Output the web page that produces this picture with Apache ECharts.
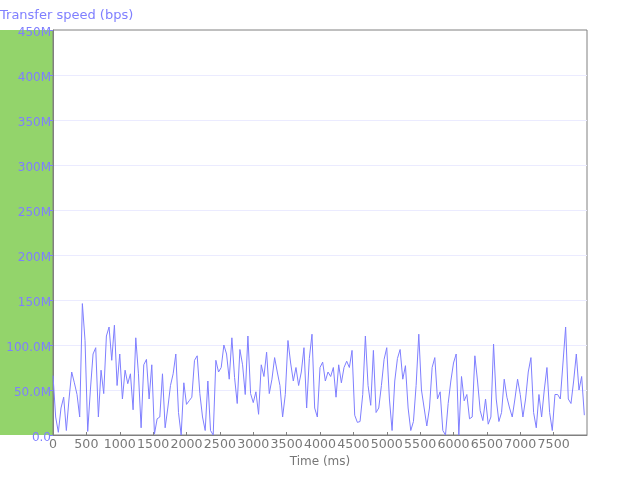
<!DOCTYPE html>
<html>
<head>
<meta charset="utf-8">
<script src="https://cdn.jsdelivr.net/npm/echarts@6/dist/echarts.min.js"></script>
<style>html,body{margin:0;padding:0;background:#fff}#c{width:640px;height:480px}</style>
</head>
<body>
<div id="c"></div>
<script>
var titleText = "Transfer speed (bps)";
var xAxisName = "Time (ms)";
var timeStep = 40; // ms between samples
var yTickLabels = {0: "0.0", 50: "50.0M", 100: "100.0M", 150: "150M", 200: "200M", 250: "250M", 300: "300M", 350: "350M", 400: "400M", 450: "450M"};
// transfer speed in Mbps, one sample per 40 ms
var speed1 = [66,20,3,30,42,5,40,70,58,45,20,146,105,4,50,90,97,20,72,46,110,120,83,122,55,90,40,72,57,68,28,108,68,8,78,84,40,78,1,18];
var speed2 = [20,68,8,30,55,68,90,25,0,58,34,38,42,83,88,46,20,5,60,5,0,83,70,75,100,90,62,108,64,35,95,78,45,110,46,36,48,23,78,65];
var speed3 = [92,46,62,86,70,55,20,45,105,80,60,75,55,70,97,30,85,112,30,20,75,81,60,70,65,75,42,78,58,75,82,75,94,22,14,15,45,110,55,33];
var speed4 = [94,25,30,55,84,97,40,5,60,85,95,62,77,30,5,15,55,112,50,30,10,30,75,86,40,48,5,0,35,60,80,90,0,65,38,45,18,20,88,60];
var speed5 = [27,16,40,12,20,101,40,15,25,62,42,30,20,40,62,45,20,40,70,86,25,8,45,20,50,75,25,5,45,45,40,80,120,40,35,60,90,50,65,22];

var speeds = speed1.concat(speed2, speed3, speed4, speed5);
var seriesData = speeds.map(function (v, i) { return [i * timeStep, v]; });

var chart = echarts.init(document.getElementById('c'), null, {renderer: 'canvas'});
var font = 'DejaVu Sans';
chart.setOption({
  animation: false,
  backgroundColor: '#ffffff',
  textStyle: {fontFamily: font},
  title: {
    text: titleText, left: 0, top: 9, padding: 0,
    textStyle: {color: '#7f7fff', fontSize: 13, fontWeight: 'normal', fontFamily: font}
  },
  graphic: [{
    type: 'rect', z: -10, silent: true,
    shape: {x: 0, y: 30, width: 53, height: 405},
    style: {fill: '#93d46b'}
  }],
  grid: {left: 53, right: 53, top: 30, bottom: 45, show: true, borderColor: '#808080', borderWidth: 1, backgroundColor: 'transparent'},
  xAxis: {
    type: 'value', min: 0, max: 8000, interval: 500,
    name: xAxisName, nameLocation: 'middle', nameGap: 19,
    nameTextStyle: {color: '#777777', fontSize: 12, fontFamily: font},
    axisLine: {lineStyle: {color: '#808080', width: 1}},
    axisTick: {show: true, inside: true, length: 3, lineStyle: {color: '#808080'}},
    axisLabel: {color: '#777777', fontSize: 12.6, margin: 3, showMaxLabel: false, fontFamily: font,
      formatter: function (v) { return String(v); }},
    splitLine: {show: false}
  },
  yAxis: {
    type: 'value', min: 0, max: 450, interval: 50,
    axisLine: {show: true, lineStyle: {color: '#808080', width: 1}},
    axisTick: {show: true, length: 3, lineStyle: {color: '#8080ff'}},
    axisLabel: {color: '#7f7fff', fontSize: 12, margin: 2, fontFamily: font,
      rich: {a: {color: '#7f7fff', fontSize: 12, fontFamily: font, padding: [6, 0, 0, 0]}},
      formatter: function (v) { return yTickLabels[v] !== undefined ? '{a|' + yTickLabels[v] + '}' : ''; }},
    splitLine: {show: true, showMinLine: false, showMaxLine: false, lineStyle: {color: '#ebebff', width: 1}}
  },
  series: [{
    type: 'line', data: seriesData, showSymbol: false, symbol: 'none',
    lineStyle: {color: '#7f7fff', width: 1}, itemStyle: {color: '#7f7fff'}
  }]
});
</script>
</body>
</html>
